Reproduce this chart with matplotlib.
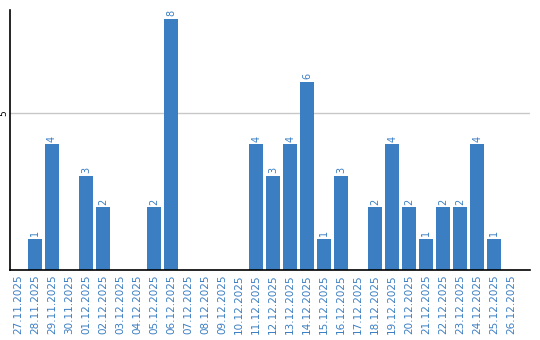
import numpy as np
import matplotlib.pyplot as plt

dates = ['27.11.2025', '28.11.2025', '29.11.2025', '30.11.2025', '01.12.2025',
         '02.12.2025', '03.12.2025', '04.12.2025', '05.12.2025', '06.12.2025',
         '07.12.2025', '08.12.2025', '09.12.2025', '10.12.2025', '11.12.2025',
         '12.12.2025', '13.12.2025', '14.12.2025', '15.12.2025', '16.12.2025',
         '17.12.2025', '18.12.2025', '19.12.2025', '20.12.2025', '21.12.2025',
         '22.12.2025', '23.12.2025', '24.12.2025', '25.12.2025', '26.12.2025']
counts = [0, 1, 4, 0, 3, 2, 0, 0, 2, 8, 0, 0, 0, 0, 4,
          3, 4, 6, 1, 3, 0, 2, 4, 2, 1, 2, 2, 4, 1, 0]

blue = '#3b7ec2'

fig = plt.figure(figsize=(5.4, 3.4), dpi=100)
ax = fig.add_axes([10 / 540, 70 / 340, 520 / 540, 260 / 340])

x = np.arange(len(dates))
ax.bar(x, counts, width=0.82, color=blue, zorder=2)
for xi, c in zip(x, counts):
    if c > 0:
        ax.text(xi, c + 0.08, str(c), rotation=90, ha='center', va='bottom',
                color=blue, fontsize=7)

ax.set_xlim(-0.47, 30.1)
ax.set_ylim(0, 8.28)
ax.set_xticks(x)
ax.set_xticklabels(dates, rotation=90, color=blue, fontsize=7.5)
ax.set_yticks([5])
ax.set_yticklabels(['5'], rotation=90, va='center', fontsize=6.5)
ax.tick_params(axis='x', length=0, pad=3)
ax.tick_params(axis='y', length=0, pad=1)
ax.yaxis.grid(True, color='#c8c8c8', linewidth=1, zorder=0)
for s in ['top', 'right']:
    ax.spines[s].set_visible(False)
ax.spines['left'].set_linewidth(1.2)
ax.spines['bottom'].set_linewidth(1.2)

fig.savefig('out.png', dpi=100)
